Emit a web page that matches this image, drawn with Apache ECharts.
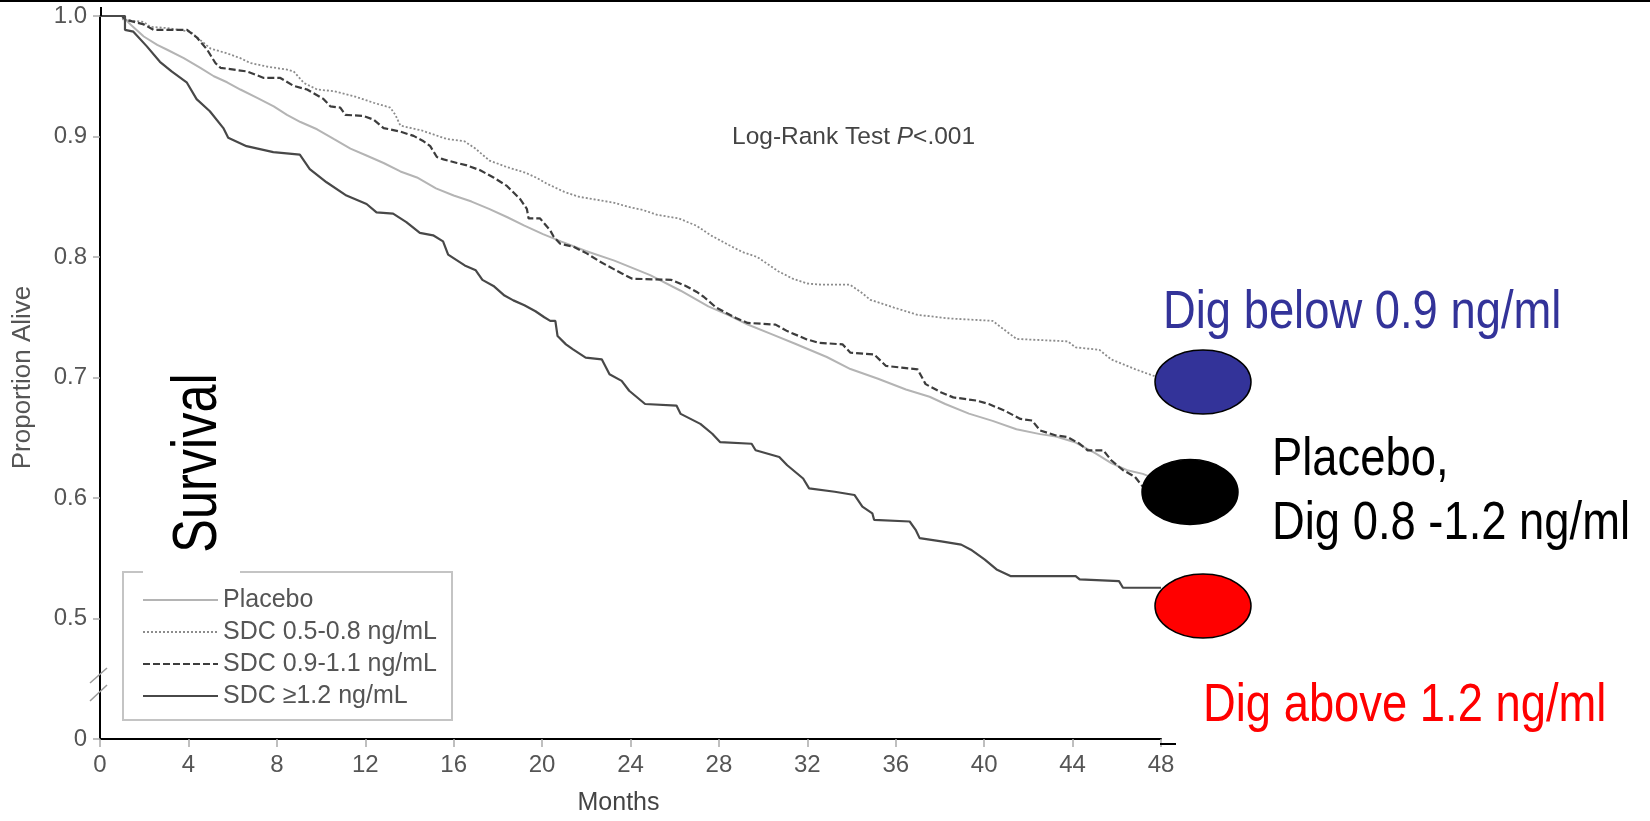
<!DOCTYPE html>
<html>
<head>
<meta charset="utf-8">
<script src="https://cdn.jsdelivr.net/npm/echarts@6/dist/echarts.min.js"></script>
<style>
  html, body { margin: 0; padding: 0; background: #ffffff; }
  #chart { width: 1650px; height: 821px; }
</style>
</head>
<body>
<div id="chart"></div>
<script>
// Kaplan-Meier survival by serum digoxin concentration: [month, proportion alive]
const placebo = [[0,1],[1.0,1],[1.38,0.993],[1.98,0.983],[2.59,0.976],[3.04,0.972],[3.79,0.965],[4.54,0.957],[5.15,0.950],[5.75,0.945],[6.35,0.939],[7.11,0.932],[7.86,0.925],[8.46,0.918],[9.07,0.912],[9.82,0.906],[10.57,0.898],[11.33,0.890],[12.08,0.884],[12.83,0.878],[13.59,0.871],[14.34,0.866],[15.2,0.857],[16.0,0.851],[16.81,0.846],[17.6,0.840],[18.43,0.833],[19.2,0.826],[20.04,0.819],[20.85,0.813],[21.98,0.805],[23.27,0.797],[24.89,0.785],[26.27,0.772],[27.52,0.759],[28.41,0.752],[29.3,0.744],[30.38,0.736],[31.45,0.728],[32.88,0.717],[33.95,0.707],[35.2,0.699],[36.46,0.690],[37.53,0.684],[38.24,0.678],[39.31,0.670],[40.38,0.664],[41.46,0.657],[42.53,0.653],[43.25,0.651],[44.14,0.646],[45.04,0.637],[45.75,0.629],[46.47,0.623],[47.18,0.620],[48,0.614]];

const sdcLow = [[0,1],[1.0,1],[1.05,0.997],[1.98,0.995],[2.28,0.991],[3.04,0.990],[4.09,0.987],[4.54,0.980],[5.0,0.973],[5.75,0.969],[6.35,0.965],[6.8,0.961],[7.56,0.958],[8.46,0.9555],[8.76,0.954],[9.22,0.9445],[9.82,0.939],[10.57,0.9376],[11.48,0.9335],[12.38,0.928],[13.13,0.924],[13.36,0.918],[13.59,0.909],[14.55,0.905],[15.68,0.898],[16.49,0.896],[16.98,0.890],[17.62,0.880],[18.43,0.8745],[19.24,0.870],[19.72,0.866],[20.2,0.861],[21.01,0.854],[21.66,0.850],[22.63,0.847],[23.27,0.845],[23.92,0.8415],[24.56,0.839],[25.21,0.835],[26.18,0.832],[26.98,0.826],[27.63,0.818],[28.44,0.810],[29.08,0.804],[29.73,0.800],[30.7,0.788],[31.34,0.782],[31.99,0.778],[32.64,0.777],[33.93,0.777],[34.41,0.771],[34.85,0.7645],[35.92,0.758],[36.99,0.752],[38.42,0.749],[40.38,0.747],[41.46,0.732],[43.78,0.730],[44.14,0.725],[45.21,0.723],[45.75,0.715],[46.82,0.707],[47.72,0.701],[48,0.700]];

const sdcMid = [[0,1],[1.0,1],[1.15,0.997],[1.98,0.993],[2.43,0.9885],[3.94,0.9885],[4.39,0.982],[4.85,0.972],[5.22,0.961],[5.45,0.957],[6.65,0.954],[7.41,0.9486],[8.16,0.9486],[8.76,0.942],[9.37,0.939],[10.12,0.931],[10.42,0.925],[10.87,0.924],[11.1,0.918],[11.93,0.917],[12.38,0.914],[12.83,0.907],[13.59,0.904],[14.19,0.9005],[14.64,0.896],[14.94,0.892],[15.24,0.883],[15.54,0.881],[16.15,0.878],[16.6,0.876],[17.2,0.872],[17.8,0.866],[18.41,0.859],[19.01,0.848],[19.31,0.840],[19.39,0.832],[19.91,0.832],[20.37,0.822],[20.52,0.817],[20.82,0.811],[21.42,0.8085],[22.02,0.803],[22.63,0.796],[23.59,0.7865],[24.08,0.782],[25.85,0.781],[26.5,0.776],[27.0,0.771],[27.31,0.767],[27.88,0.758],[28.77,0.7494],[29.3,0.7453],[30.56,0.7439],[31.09,0.7385],[31.98,0.7316],[32.52,0.7288],[33.59,0.7275],[33.95,0.7206],[35.02,0.7192],[35.56,0.7096],[36.27,0.7082],[36.99,0.7068],[37.35,0.6945],[38.06,0.6876],[38.6,0.6835],[39.67,0.6808],[40.21,0.678],[40.92,0.6725],[41.64,0.6656],[42.17,0.6643],[42.53,0.656],[43.25,0.6519],[43.78,0.6505],[44.32,0.645],[44.68,0.6396],[45.39,0.6396],[45.75,0.6313],[46.28,0.6231],[46.82,0.6176],[47.18,0.6093],[48,0.603]];

const sdcHigh = [[0,1],[1.13,1],[1.13,0.9885],[1.51,0.987],[2.11,0.975],[2.71,0.962],[3.24,0.954],[3.92,0.945],[4.37,0.931],[4.97,0.921],[5.58,0.907],[5.80,0.899],[6.63,0.892],[7.84,0.887],[9.04,0.885],[9.49,0.873],[10.25,0.862],[11.15,0.851],[12.06,0.844],[12.51,0.837],[13.26,0.836],[13.86,0.829],[14.47,0.820],[15.07,0.818],[15.52,0.813],[15.75,0.802],[16.5,0.793],[17.0,0.789],[17.3,0.781],[17.8,0.776],[18.3,0.768],[18.7,0.764],[19.2,0.760],[19.7,0.755],[20.1,0.750],[20.37,0.747],[20.6,0.747],[20.7,0.7344],[21.08,0.7275],[21.4,0.7233],[21.97,0.7165],[22.7,0.7151],[23.05,0.7027],[23.6,0.6972],[23.94,0.689],[24.66,0.678],[26.08,0.6767],[26.27,0.6698],[27.16,0.6615],[27.7,0.6533],[28.05,0.6464],[29.48,0.645],[29.66,0.6396],[30.73,0.634],[31.09,0.6272],[31.81,0.6162],[32.08,0.608],[33.24,0.6052],[34.13,0.6025],[34.49,0.5928],[34.94,0.5873],[35.02,0.5819],[36.63,0.5805],[36.9,0.5736],[37.08,0.5667],[38.06,0.564],[38.96,0.5613],[39.4,0.5571],[40.03,0.5489],[40.56,0.5407],[41.19,0.5352],[44.14,0.5352],[44.32,0.5324],[46.1,0.531],[46.28,0.5255],[48,0.5255]];

const seriesNames = ['Placebo', 'SDC 0.5-0.8 ng/mL', 'SDC 0.9-1.1 ng/mL', 'SDC \u22651.2 ng/mL'];
const monthTicks = { min: 0, max: 48, interval: 4 };
// the lowest tick sits at the axis break and is labelled 0
const yTicks = { min: 0.4, max: 1.0, interval: 0.1, breakValue: 0.4 };

const plain = "'Liberation Sans', Arial, Helvetica, sans-serif";
// condensed lettering: regular face squeezed horizontally
const squeeze = 0.84;

const chart = echarts.init(document.getElementById('chart'), null, { renderer: 'canvas', width: 1650, height: 821 });

function curve(name, data, color, width, type) {
  return {
    name: name,
    type: 'line',
    data: data,
    symbol: 'none',
    smooth: false,
    lineStyle: { color: color, width: width, type: type },
    itemStyle: { color: color },
    emphasis: { disabled: true },
    z: 3
  };
}

function note(text, x, y, color) {
  return {
    type: 'text', x: x, y: y, scaleX: squeeze, z: 70,
    style: { text: text, fill: color, font: '54px ' + plain, align: 'left', verticalAlign: 'middle' }
  };
}

chart.setOption({
  animation: false,
  backgroundColor: '#ffffff',
  grid: { left: 100, right: 489, top: 16, bottom: 77, containLabel: false },
  legend: {
    orient: 'vertical',
    left: 142,
    top: 587,
    padding: 0,
    itemWidth: 75,
    itemHeight: 14,
    itemGap: 6,
    selectedMode: false,
    data: seriesNames,
    itemStyle: { opacity: 0 },
    textStyle: { color: '#555', fontSize: 25, fontFamily: plain, lineHeight: 26 }
  },
  xAxis: {
    type: 'value',
    min: monthTicks.min,
    max: monthTicks.max,
    interval: monthTicks.interval,
    name: 'Months',
    nameLocation: 'middle',
    nameGap: 52,
    nameTextStyle: { color: '#444', fontSize: 25, fontFamily: plain, padding: [0, 24, 0, 0] },
    axisLine: { show: true, lineStyle: { color: '#000', width: 2 } },
    axisTick: { show: true, length: 8, lineStyle: { color: '#aaa', width: 1.5 } },
    axisLabel: { color: '#555', fontSize: 24, fontFamily: plain, margin: 14 },
    splitLine: { show: false }
  },
  yAxis: {
    type: 'value',
    min: yTicks.min,
    max: yTicks.max,
    interval: yTicks.interval,
    name: 'Proportion Alive',
    nameLocation: 'middle',
    nameRotate: 90,
    nameGap: 64,
    nameTextStyle: { color: '#555', fontSize: 26, fontFamily: plain },
    axisLine: { show: true, lineStyle: { color: '#000', width: 2 } },
    axisTick: { show: true, length: 7, lineStyle: { color: '#aaa', width: 1.5 } },
    axisLabel: {
      color: '#555', fontSize: 24, fontFamily: plain, margin: 13,
      formatter: function (v) { return Math.abs(v - yTicks.breakValue) < 1e-6 ? '0' : v.toFixed(1); }
    },
    splitLine: { show: false }
  },
  series: [
    curve(seriesNames[0], placebo, '#b4b4b4', 2, 'solid'),
    curve(seriesNames[1], sdcLow, '#8c8c8c', 1.8, [2, 2]),
    curve(seriesNames[2], sdcMid, '#3c3c3c', 2.2, [7, 3]),
    curve(seriesNames[3], sdcHigh, '#484848', 2.2, 'solid')
  ],
  graphic: {
    elements: [
      // frame line along the top edge
      { type: 'line', shape: { x1: 0, y1: 1, x2: 1650, y2: 1 }, style: { stroke: '#000', lineWidth: 2 }, z: 50 },
      // axis extensions past the plotting area
      { type: 'line', shape: { x1: 101, y1: 7, x2: 101, y2: 16 }, style: { stroke: '#000', lineWidth: 2 }, z: 50 },
      { type: 'line', shape: { x1: 1160, y1: 744, x2: 1176, y2: 744 }, style: { stroke: '#000', lineWidth: 2 }, z: 50 },
      // axis break marks
      { type: 'line', shape: { x1: 90, y1: 683, x2: 107, y2: 668 }, style: { stroke: '#999', lineWidth: 1.5 }, z: 50 },
      { type: 'line', shape: { x1: 90, y1: 701, x2: 107, y2: 685 }, style: { stroke: '#999', lineWidth: 1.5 }, z: 50 },
      // legend frame
      { type: 'rect', shape: { x: 123, y: 572, width: 329, height: 148 }, style: { fill: 'none', stroke: '#c4c4c4', lineWidth: 2 }, z: 1 },
      // panel caption, on a white backing
      { type: 'rect', shape: { x: 143, y: 350, width: 97, height: 226 }, style: { fill: '#ffffff' }, z: 2 },
      {
        type: 'text', x: 199, y: 463, rotation: Math.PI / 2, scaleX: 0.8, z: 60,
        style: { text: 'Survival', fill: '#000', font: '63px ' + plain, align: 'center', verticalAlign: 'middle' }
      },
      {
        type: 'text', x: 732, y: 137, z: 60,
        style: {
          text: 'Log-Rank Test {i|P}<.001', fill: '#444', font: '24.5px ' + plain,
          align: 'left', verticalAlign: 'middle',
          rich: { i: { fontStyle: 'italic', fontSize: 24.5, fontFamily: plain, fill: '#444' } }
        }
      },
      // group markers
      { type: 'ellipse', shape: { cx: 1203, cy: 382, rx: 48, ry: 32 }, style: { fill: '#333399', stroke: '#000', lineWidth: 1.5 }, z: 70 },
      { type: 'ellipse', shape: { cx: 1190, cy: 492, rx: 48, ry: 32.5 }, style: { fill: '#000000', stroke: '#000', lineWidth: 1.5 }, z: 70 },
      { type: 'ellipse', shape: { cx: 1203, cy: 606, rx: 48, ry: 32 }, style: { fill: '#ff0000', stroke: '#000', lineWidth: 1.5 }, z: 70 },
      note('Dig below 0.9 ng/ml', 1163, 313, '#333399'),
      note('Placebo,', 1272, 460, '#000000'),
      note('Dig 0.8 -1.2 ng/ml', 1272, 524, '#000000'),
      note('Dig above 1.2 ng/ml', 1203, 706, '#ff0000')
    ]
  }
});
</script>
</body>
</html>
